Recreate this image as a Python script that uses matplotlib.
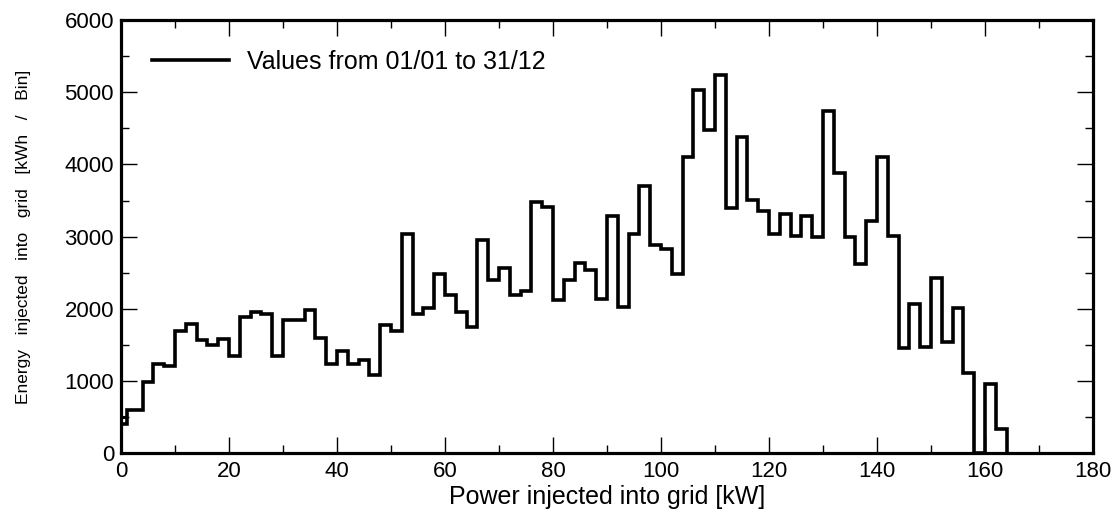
import matplotlib.pyplot as plt
from matplotlib.ticker import MultipleLocator

plt.rcParams['font.family'] = ['Liberation Sans', 'DejaVu Sans']

# bin edges [kW] (2 kW bins, first one narrower)
bin_edges = [0, 1.2] + list(range(4, 166, 2))

# energy per bin [kWh]
energy = [400, 600, 980, 1240, 1210, 1690, 1790, 1560, 1500, 1580,
          1340, 1880, 1950, 1920, 1340, 1850, 1850, 1980, 1590, 1240,
          1420, 1240, 1290, 1080, 1770, 1690, 3040, 1930, 2010, 2480,
          2190, 1960, 1740, 2950, 2400, 2560, 2190, 2240, 3480, 3410,
          2120, 2400, 2640, 2540, 2140, 3280, 2030, 3040, 3700, 2880,
          2830, 2480, 4110, 5030, 4480, 5240, 3400, 4380, 3510, 3350,
          3040, 3320, 3010, 3290, 2990, 4740, 3880, 2990, 2620, 3220,
          4110, 3010, 1450, 2060, 1470, 2430, 1540, 2010, 1110, 0,
          960, 330]
first_bin_alt = 500

fig = plt.figure(figsize=(11.2, 5.18), dpi=100)
ax = fig.add_axes([0.108, 0.1255, 0.868, 0.8355])

ax.stairs(energy, bin_edges, color='black', lw=2.6, baseline=0,
          label='Values from 01/01 to 31/12')
ax.hlines(first_bin_alt, bin_edges[0], bin_edges[1], color='black', lw=2.2)

ax.set_xlim(0, 180)
ax.set_ylim(0, 6000)
ax.xaxis.set_major_locator(MultipleLocator(20))
ax.xaxis.set_minor_locator(MultipleLocator(10))
ax.yaxis.set_major_locator(MultipleLocator(1000))
ax.yaxis.set_minor_locator(MultipleLocator(500))

ax.tick_params(which='both', direction='in', top=True, right=True,
               labelsize=16, width=1, color='black')
ax.tick_params(which='major', length=11.5)
ax.tick_params(which='minor', length=5.8)
ax.tick_params(axis='x', pad=6)
ax.tick_params(axis='y', pad=5)
for s in ax.spines.values():
    s.set_linewidth(2.3)

ax.set_xlabel('Power injected into grid [kW]', fontsize=18, labelpad=2)
ax.set_ylabel('Energy   injected   into   grid   [kWh   /   Bin]', fontsize=12.5,
              labelpad=24)

ax.legend(loc='center left', frameon=False, fontsize=18, handlelength=3.1,
          handletextpad=0.7, borderaxespad=0, bbox_to_anchor=(0.0216, 0.903))

fig.savefig('out.png', dpi=100)
